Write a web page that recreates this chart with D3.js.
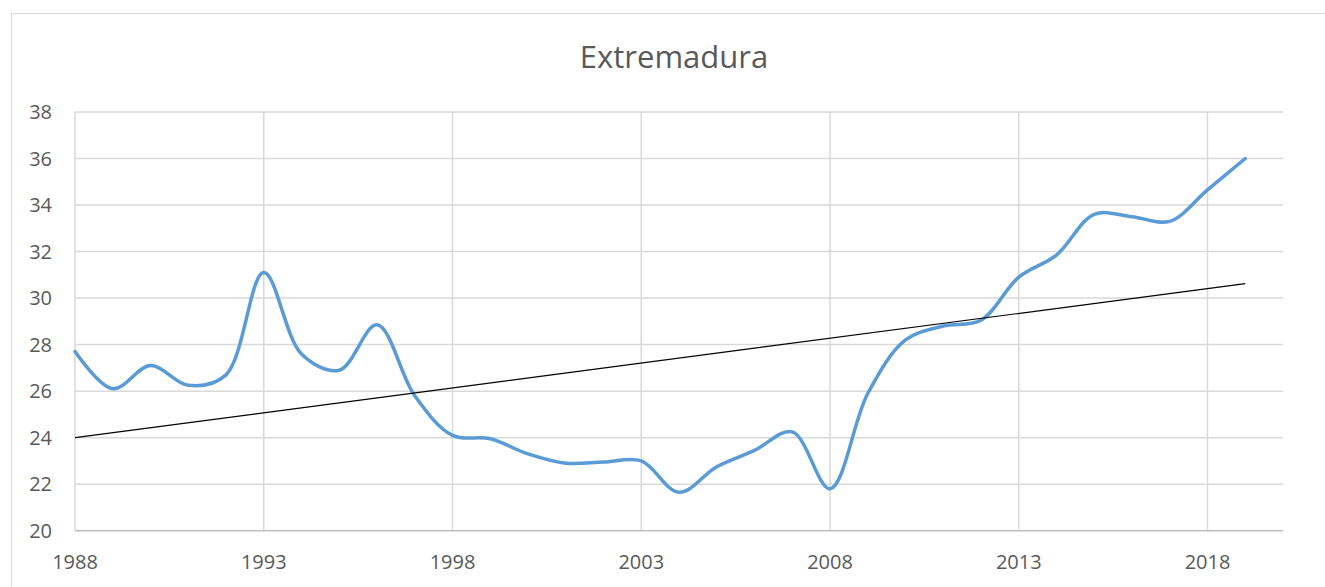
<!DOCTYPE html>
<meta charset="utf-8">
<script src="https://d3js.org/d3.v7.min.js"></script>
<style>
  body { margin: 0; background: #fff; }
  text { font-family: "Open Sans", sans-serif; fill: #595959; }
</style>
<body>
<div id="vis"></div>
<script>
// yearly values
var years = d3.range(1988, 2020);
var values = [27.7, 26.1, 27.1, 26.25, 26.7, 31.1, 27.6, 26.9, 28.85, 25.8,
              24.1, 23.95, 23.3, 22.9, 22.95, 23.0, 21.65, 22.75, 23.45, 24.25,
              21.8, 25.9, 28.2, 28.8, 29.05, 30.9, 31.85, 33.6, 33.5, 33.3,
              34.65, 36.0];
var xTicks = [1988, 1993, 1998, 2003, 2008, 2013, 2018];
var yTicks = [20, 22, 24, 26, 28, 30, 32, 34, 36, 38];
var title = "Extremadura";

var data = years.map(function(y, i) { return {year: y, value: values[i]}; });

var W = 1325, H = 587;
var margin = {top: 112, right: 42, bottom: 56, left: 75},
    width = 1283 - margin.left,
    height = 530.7 - margin.top;

var svg = d3.select("#vis").append("svg")
    .attr("width", W)
    .attr("height", H);

// chart frame
svg.append("rect")
    .attr("x", 11.5).attr("y", 13.5)
    .attr("width", W).attr("height", H)
    .attr("fill", "none")
    .attr("stroke", "#d9d9d9")
    .attr("stroke-width", 1);

svg.append("text")
    .attr("x", 674).attr("y", 68)
    .attr("text-anchor", "middle")
    .attr("font-size", "31px")
    .text(title);

var g = svg.append("g")
    .attr("transform", "translate(" + margin.left + "," + margin.top + ")");

var x = d3.scaleLinear().domain([1988, 2020]).range([0, width]);
var y = d3.scaleLinear().domain([20, 38]).range([height, 0]);

// horizontal grid
g.selectAll(".hgrid")
  .data(yTicks.slice(1))
  .enter().append("line")
    .attr("x1", 0).attr("x2", width)
    .attr("y1", function(d) { return y(d); })
    .attr("y2", function(d) { return y(d); })
    .attr("stroke", "#d9d9d9")
    .attr("stroke-width", 1.5);

// vertical grid
g.selectAll(".vgrid")
  .data(xTicks)
  .enter().append("line")
    .attr("x1", function(d) { return x(d); })
    .attr("x2", function(d) { return x(d); })
    .attr("y1", 0).attr("y2", height)
    .attr("stroke", "#d9d9d9")
    .attr("stroke-width", 1.5);

// bottom axis line
g.append("line")
    .attr("x1", 0).attr("x2", width)
    .attr("y1", height).attr("y2", height)
    .attr("stroke", "#bfbfbf")
    .attr("stroke-width", 1.5);

// y labels
g.selectAll(".ylab")
  .data(yTicks)
  .enter().append("text")
    .attr("x", -23)
    .attr("y", function(d) { return y(d) + 7; })
    .attr("text-anchor", "end")
    .attr("font-size", "20px")
    .text(function(d) { return d; });

// x labels
g.selectAll(".xlab")
  .data(xTicks)
  .enter().append("text")
    .attr("x", function(d) { return x(d); })
    .attr("y", height + 38)
    .attr("text-anchor", "middle")
    .attr("font-size", "20px")
    .text(function(d) { return d; });

// data line (smoothed)
var line = d3.line()
    .x(function(d) { return x(d.year); })
    .y(function(d) { return y(d.value); })
    .curve(d3.curveCatmullRom.alpha(0.5));

g.append("path")
    .datum(data)
    .attr("fill", "none")
    .attr("stroke", "#5b9bd5")
    .attr("stroke-width", 3.5)
    .attr("stroke-linecap", "round")
    .attr("d", line);

// linear trend (least squares)
var mx = d3.mean(years), my = d3.mean(values);
var sxy = d3.sum(data, function(d) { return (d.year - mx) * (d.value - my); });
var sxx = d3.sum(years, function(t) { return (t - mx) * (t - mx); });
var slope = sxy / sxx, icpt = my - slope * mx;
var trend = [1988, 2019].map(function(t) { return {year: t, value: icpt + slope * t}; });

g.append("path")
    .datum(trend)
    .attr("fill", "none")
    .attr("stroke", "#000")
    .attr("stroke-width", 1.2)
    .attr("d", d3.line()
      .x(function(d) { return x(d.year); })
      .y(function(d) { return y(d.value); }));
</script>
</body>
